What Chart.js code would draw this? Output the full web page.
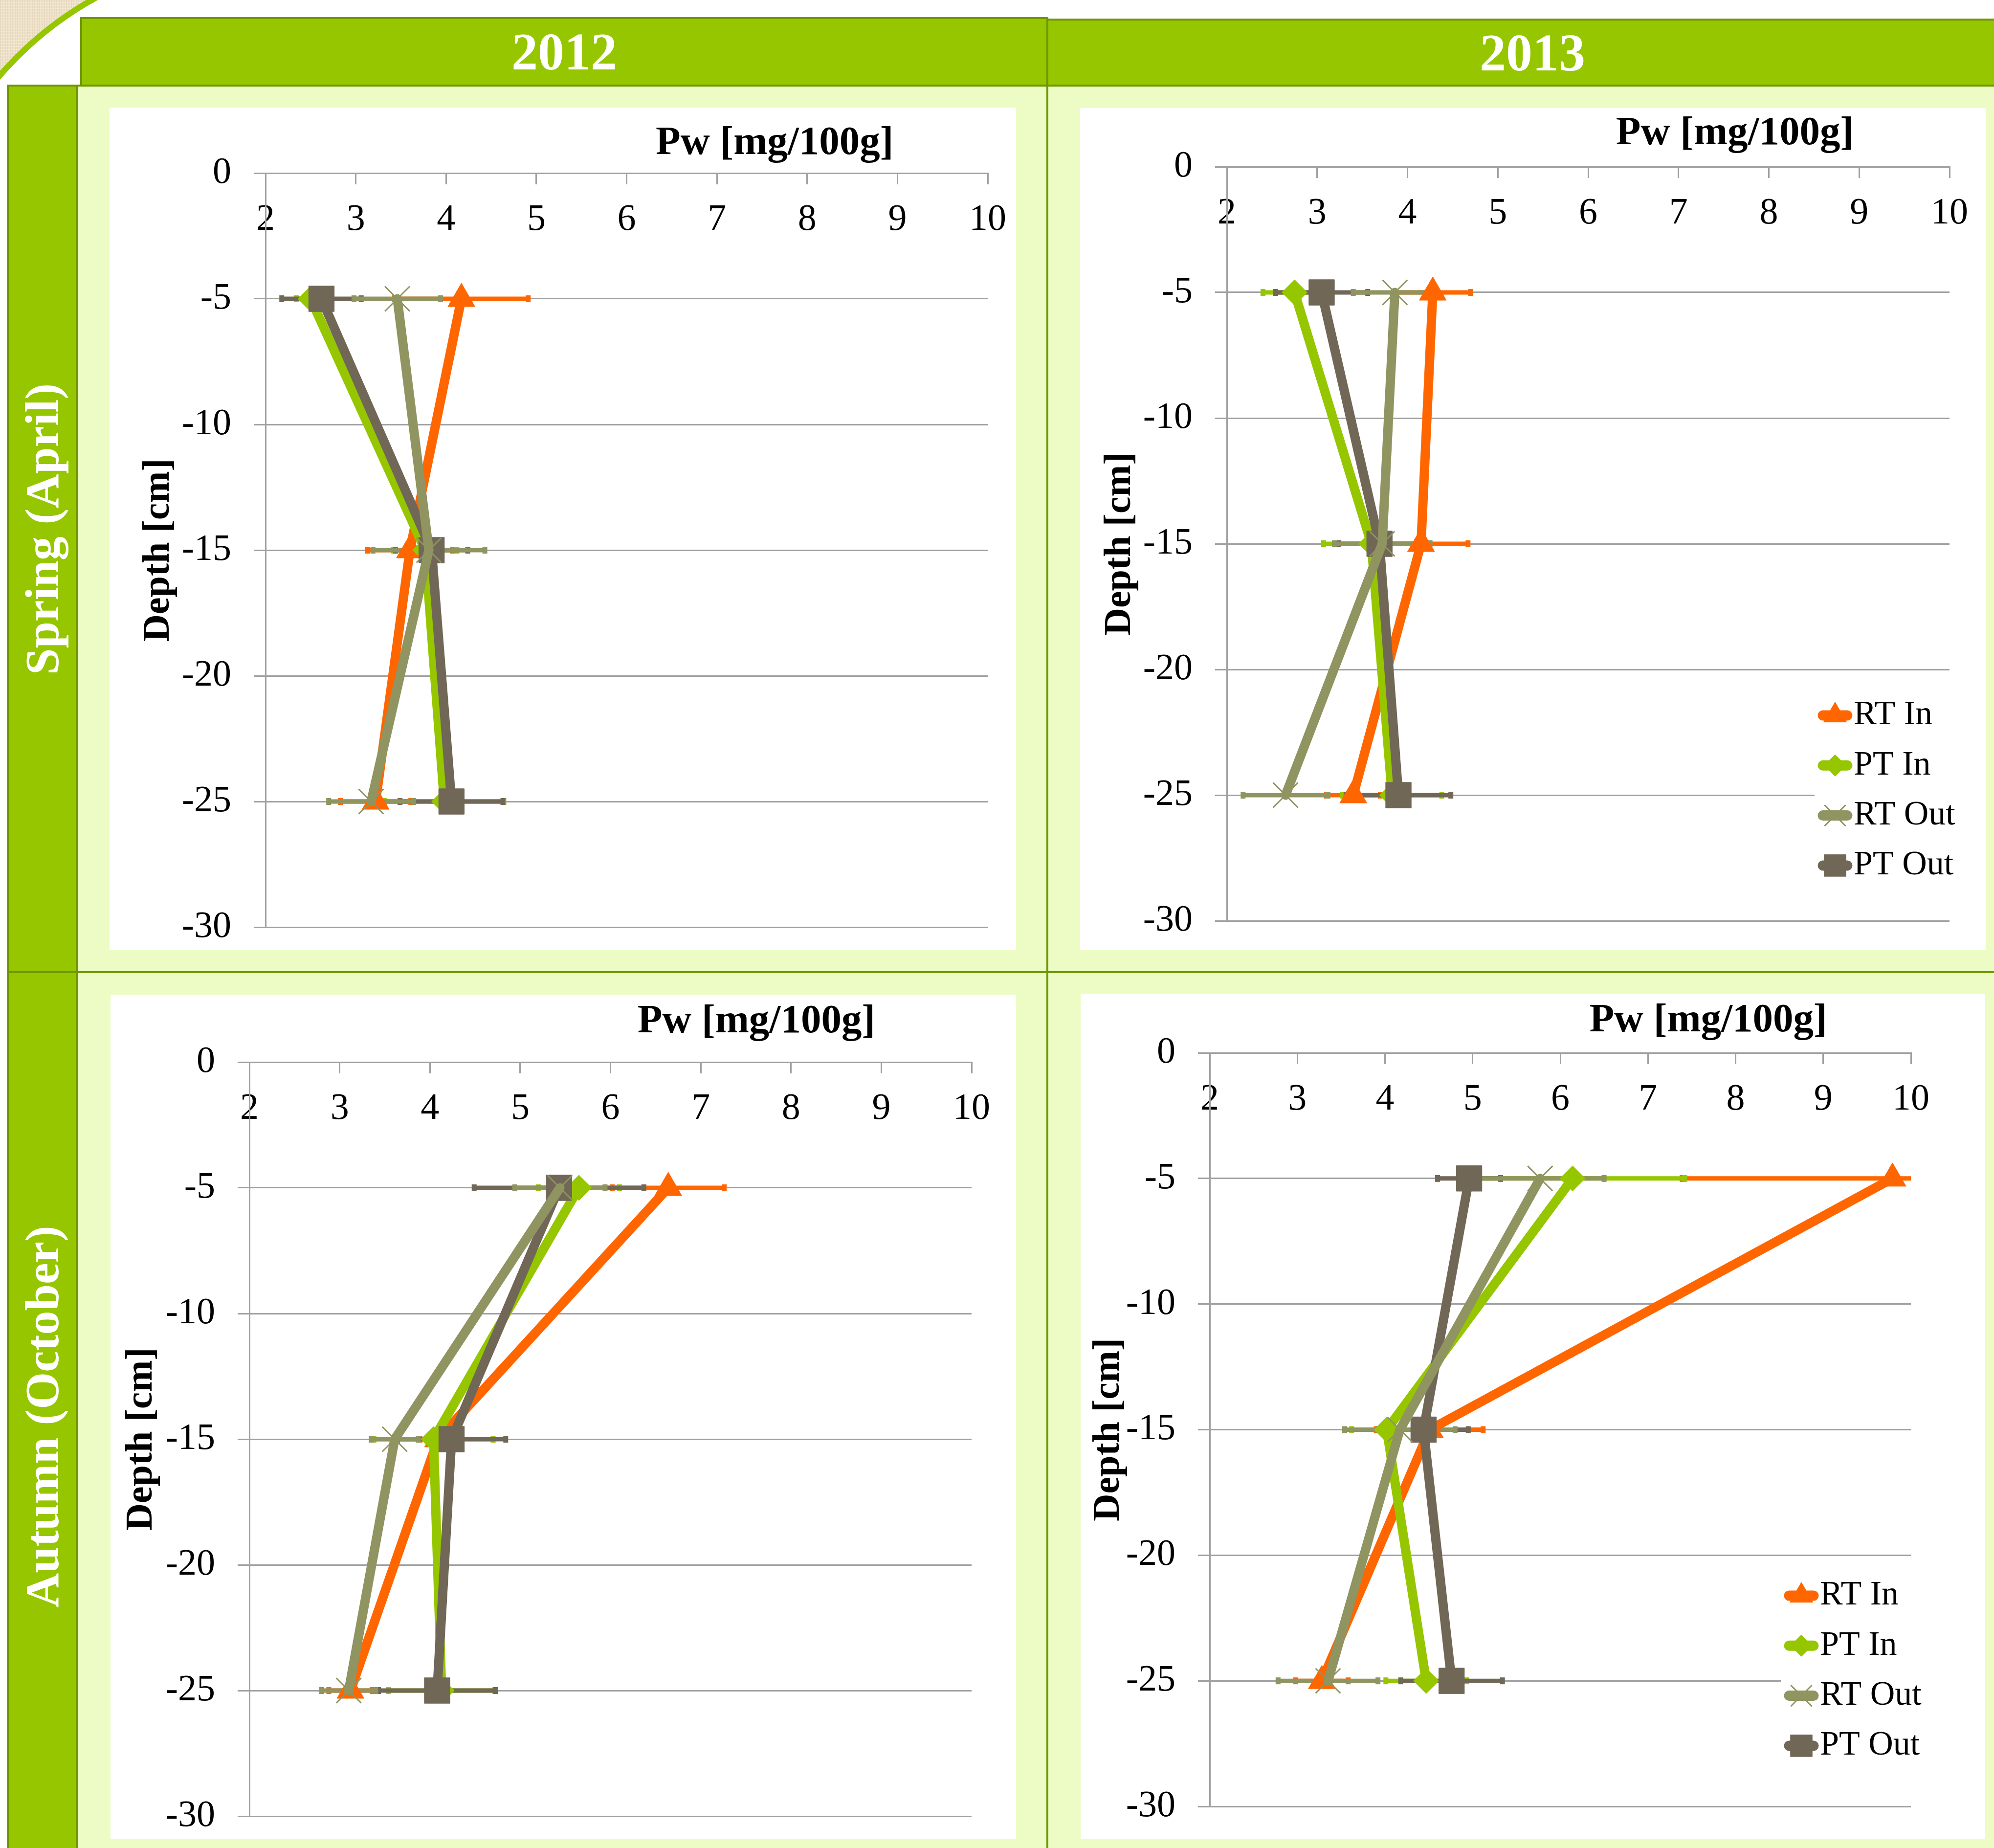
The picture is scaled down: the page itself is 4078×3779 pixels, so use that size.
<!DOCTYPE html>
<html>
<head>
<meta charset="utf-8">
<title>Pw depth profiles 2012–2013</title>
<script src="https://cdn.jsdelivr.net/npm/chart.js@4.4.1/dist/chart.umd.min.js"></script>
<style>
  html, body { margin: 0; padding: 0; background: #ffffff; }
  #page { position: relative; width: 4078px; height: 3779px; overflow: hidden; background: #ffffff;
          font-family: 'Liberation Serif', 'DejaVu Serif', serif; }
  .cornerWrap { position: absolute; left: 0; top: 0; width: 240px; height: 240px; overflow: hidden;
                background-color: #efe2c8;
                background-image:
                  repeating-linear-gradient(0deg, rgba(255,255,255,0.22) 0 2px, rgba(0,0,0,0) 2px 6px),
                  repeating-linear-gradient(90deg, rgba(150,120,80,0.10) 0 2px, rgba(0,0,0,0) 2px 5px); }
  .arc { position: absolute; left: -183px; top: -100px; width: 1430px; height: 1430px;
         border: 12px solid #95c600; border-radius: 50%; background: #ffffff; }
  .hdr { position: absolute; box-sizing: border-box; background: #95c600; border: 4px solid #6f9600;
         color: #ffffff; font-weight: bold; font-size: 108px; line-height: 1;
         display: flex; align-items: center; justify-content: center; }
  .side { position: absolute; box-sizing: border-box; background: #95c600; border: 4px solid #6f9600; }
  .sideText { position: absolute; color: #ffffff; font-weight: bold; font-size: 98px; line-height: 1;
              white-space: nowrap; transform: translate(-50%, -50%) rotate(-90deg); }
  .cell { position: absolute; box-sizing: border-box; background: #ecfcc4; border: 4px solid #6f9600; }
  .box { position: absolute; background: #ffffff; }
  .box canvas { display: block; }
</style>
</head>
<body>
<div id="page">
  <div class="cornerWrap"><div class="arc"></div></div>

  <div class="cell" style="left:155px; top:173px; width:1989px; height:1817px;"></div>
  <div class="cell" style="left:2140px; top:173px; width:2000px; height:1817px;"></div>
  <div class="cell" style="left:155px; top:1986px; width:1989px; height:1900px;"></div>
  <div class="cell" style="left:2140px; top:1986px; width:2000px; height:1900px;"></div>

  <div class="side" style="left:14px; top:173px; width:145px; height:1817px;"></div>
  <div class="side" style="left:14px; top:1986px; width:145px; height:1900px;"></div>
  <div class="sideText" id="season0" style="left:86px; top:1082px;"></div>
  <div class="sideText" id="season1" style="left:86px; top:2897px;"></div>

  <div class="hdr" id="year0" style="left:164px; top:35px; width:1980px; height:142px;"></div>
  <div class="hdr" id="year1" style="left:2140px; top:38px; width:1988px; height:139px;"></div>

  <div class="box" style="left:224px; top:220px; width:1854px; height:1723px;"><canvas id="cSpring2012" width="1854" height="1723"></canvas></div>
  <div class="box" style="left:2209px; top:221px; width:1852px; height:1722px;"><canvas id="cSpring2013" width="1852" height="1722"></canvas></div>
  <div class="box" style="left:226px; top:2034px; width:1852px; height:1727px;"><canvas id="cAutumn2012" width="1852" height="1727"></canvas></div>
  <div class="box" style="left:2210px; top:2032px; width:1850px; height:1728px;"><canvas id="cAutumn2013" width="1850" height="1728"></canvas></div>
</div>

<script>
// ---- labels and ticks ----
const yearLabels = ['2012', '2013'];
const seasonLabels = ['Spring (April)', 'Autumn (October)'];
const seriesNames = ['RT In', 'PT In', 'RT Out', 'PT Out'];
const depthLevels = [-5, -15, -25];
const pwTickValues = [2, 3, 4, 5, 6, 7, 8, 9, 10];
const depthTickValues = [0, -5, -10, -15, -20, -25, -30];
const pwAxisTitle = 'Pw [mg/100g]';
const depthAxisTitle = 'Depth [cm]';

// ---- Spring (April) 2012: means and error half-widths per depth ----
const rtIn_spring2012 = [4.17, 3.60, 3.22];
const ptIn_spring2012 = [2.50, 3.77, 3.98];
const rtOut_spring2012 = [3.46, 3.81, 3.17];
const ptOut_spring2012 = [2.62, 3.84, 4.06];
const rtInErr_spring2012 = [0.74, 0.47, 0.39];
const ptInErr_spring2012 = [0.16, 0.35, 0.66];
const rtOutErr_spring2012 = [0.48, 0.62, 0.47];
const ptOutErr_spring2012 = [0.44, 0.40, 0.57];

// ---- Spring (April) 2013 ----
const rtIn_spring2013 = [4.28, 4.15, 3.40];
const ptIn_spring2013 = [2.75, 3.60, 3.83];
const rtOut_spring2013 = [3.86, 3.72, 2.65];
const ptOut_spring2013 = [3.05, 3.69, 3.90];
const rtInErr_spring2013 = [0.42, 0.52, 0.30];
const ptInErr_spring2013 = [0.35, 0.53, 0.55];
const rtOutErr_spring2013 = [0.46, 0.53, 0.47];
const ptOutErr_spring2013 = [0.51, 0.45, 0.58];

// ---- Autumn (October) 2012 ----
const rtIn_autumn2012 = [6.64, 4.09, 3.12];
const ptIn_autumn2012 = [5.65, 4.04, 4.13];
const rtOut_autumn2012 = [5.44, 3.61, 3.10];
const ptOut_autumn2012 = [5.43, 4.24, 4.08];
const rtInErr_autumn2012 = [0.62, 0.20, 0.24];
const ptInErr_autumn2012 = [0.45, 0.66, 0.59];
const rtOutErr_autumn2012 = [0.50, 0.26, 0.30];
const ptOutErr_autumn2012 = [0.94, 0.60, 0.65];

// ---- Autumn (October) 2013 ----
const rtIn_autumn2013 = [9.79, 4.51, 3.28];
const ptIn_autumn2013 = [6.14, 4.02, 4.47];
const rtOut_autumn2013 = [5.77, 4.17, 3.35];
const ptOut_autumn2013 = [4.96, 4.44, 4.76];
const rtInErr_autumn2013 = [2.40, 0.61, 0.30];
const ptInErr_autumn2013 = [1.28, 0.40, 0.46];
const rtOutErr_autumn2013 = [0.73, 0.63, 0.57];
const ptOutErr_autumn2013 = [0.36, 0.51, 0.58];

// ---- styling ----
const FONT = "'Liberation Serif', 'DejaVu Serif', serif";
const GRID = '#a0a0a0';
const seriesStyle = [
  { color: '#ff6600', pointStyle: 'triangle', radius: 32, pointBorderWidth: 1 },
  { color: '#95c600', pointStyle: 'rectRot',  radius: 26, pointBorderWidth: 1 },
  { color: '#8f9461', pointStyle: 'crossRot', radius: 36, pointBorderWidth: 3 },
  { color: '#716757', pointStyle: 'rect',     radius: 37, pointBorderWidth: 1 }
];
// lower value is painted later (on top)
const drawOrder = [3, 2, 0, 1];

// panel geometry inside each white box
const panels = [
  { id: 'cSpring2012',
    values: [rtIn_spring2012, ptIn_spring2012, rtOut_spring2012, ptOut_spring2012],
    errors: [rtInErr_spring2012, ptInErr_spring2012, rtOutErr_spring2012, ptOutErr_spring2012],
    frame: { left: 319, top: 134, right: 58, bottom: 47 }, captionFx: 0.705, captionGap: 60, yTitlePad: 54, legend: null },
  { id: 'cSpring2013',
    values: [rtIn_spring2013, ptIn_spring2013, rtOut_spring2013, ptOut_spring2013],
    errors: [rtInErr_spring2013, ptInErr_spring2013, rtOutErr_spring2013, ptOutErr_spring2013],
    frame: { left: 300, top: 120, right: 74, bottom: 60 }, captionFx: 0.703, captionGap: 67, yTitlePad: 35,
    legend: { dx: 234, firstRow: 1122, rowGap: 102.3 } },
  { id: 'cAutumn2012',
    values: [rtIn_autumn2012, ptIn_autumn2012, rtOut_autumn2012, ptOut_autumn2012],
    errors: [rtInErr_autumn2012, ptInErr_autumn2012, rtOutErr_autumn2012, ptOutErr_autumn2012],
    frame: { left: 284, top: 138, right: 91, bottom: 47 }, captionFx: 0.702, captionGap: 82, yTitlePad: 17, legend: null },
  { id: 'cAutumn2013',
    values: [rtIn_autumn2013, ptIn_autumn2013, rtOut_autumn2013, ptOut_autumn2013],
    errors: [rtInErr_autumn2013, ptInErr_autumn2013, rtOutErr_autumn2013, ptOutErr_autumn2013],
    frame: { left: 264, top: 121, right: 152, bottom: 66 }, captionFx: 0.711, captionGap: 65, yTitlePad: 11,
    legend: { dx: 224, firstRow: 1110, rowGap: 102.3 } }
];

document.getElementById('year0').textContent = yearLabels[0];
document.getElementById('year1').textContent = yearLabels[1];
document.getElementById('season0').textContent = seasonLabels[0];
document.getElementById('season1').textContent = seasonLabels[1];

// horizontal error bars, painted under the profile lines
const errorBarPlugin = {
  id: 'errorBars',
  beforeDatasetsDraw(chart) {
    const { ctx, chartArea: a, scales: { x, y } } = chart;
    ctx.save();
    ctx.beginPath();
    ctx.rect(a.left, a.top - 20, a.right - a.left, a.bottom - a.top + 40);
    ctx.clip();
    const metas = chart.getSortedVisibleDatasetMetas();
    for (let m = metas.length - 1; m >= 0; m--) {
      const ds = chart.data.datasets[metas[m].index];
      ds.data.forEach((pt, j) => {
        const e = ds.xErrors[j];
        const x0 = x.getPixelForValue(pt.x - e);
        const x1 = x.getPixelForValue(pt.x + e);
        const py = y.getPixelForValue(pt.y);
        ctx.strokeStyle = ds.borderColor;
        ctx.fillStyle = ds.borderColor;
        ctx.lineWidth = 9;
        ctx.lineCap = 'butt';
        ctx.beginPath();
        ctx.moveTo(x0, py);
        ctx.lineTo(x1, py);
        ctx.stroke();
        ctx.fillRect(x0 - 5, py - 7, 10, 14);
        ctx.fillRect(x1 - 5, py - 7, 10, 14);
      });
    }
    ctx.restore();
  }
};

// x axis caption placed above the top axis line
const axisCaptionPlugin = {
  id: 'axisCaption',
  afterDraw(chart, args, opts) {
    const { ctx, chartArea: a } = chart;
    ctx.save();
    ctx.font = 'bold ' + opts.size + 'px ' + FONT;
    ctx.fillStyle = '#000000';
    ctx.textAlign = 'center';
    ctx.textBaseline = 'middle';
    ctx.fillText(opts.text, a.left + opts.fx * (a.right - a.left), a.top - opts.gap);
    ctx.restore();
  }
};

function paintMarker(ctx, style, radius, borderWidth, x, y) {
  if (Chart.helpers && Chart.helpers.drawPoint) {
    Chart.helpers.drawPoint(ctx, { pointStyle: style, radius: radius, borderWidth: borderWidth, rotation: 0 }, x, y);
  }
}

// legend box inside the plot, lower right
const sideLegendPlugin = {
  id: 'sideLegend',
  afterDraw(chart, args, opts) {
    if (!opts.show) return;
    const { ctx, chartArea: a } = chart;
    const mx = a.right - opts.dx;
    const dsList = chart.data.datasets;
    const rows = dsList.map((ds, i) => a.top + opts.firstRow + i * opts.rowGap);
    ctx.save();
    ctx.fillStyle = '#ffffff';
    ctx.fillRect(mx - 42, rows[0] - 55, chart.width - (mx - 42), rows[rows.length - 1] - rows[0] + 110);
    dsList.forEach((ds, i) => {
      const ry = rows[i];
      ctx.strokeStyle = ds.borderColor;
      ctx.lineWidth = 21;
      ctx.lineCap = 'round';
      ctx.beginPath();
      ctx.moveTo(mx - 25, ry);
      ctx.lineTo(mx + 25, ry);
      ctx.stroke();
      ctx.lineCap = 'butt';
      ctx.fillStyle = ds.pointBackgroundColor;
      ctx.strokeStyle = ds.pointBorderColor;
      ctx.lineWidth = ds.pointBorderWidth;
      paintMarker(ctx, ds.pointStyle, ds.pointRadius * 0.85, ds.pointBorderWidth, mx, ry);
      ctx.fillStyle = '#000000';
      ctx.font = '70px ' + FONT;
      ctx.textAlign = 'left';
      ctx.textBaseline = 'middle';
      ctx.fillText(ds.label, mx + 38, ry);
    });
    ctx.restore();
  }
};

function buildChart(p) {
  const datasets = seriesNames.map((name, i) => ({
    label: name,
    data: depthLevels.map((d, j) => ({ x: p.values[i][j], y: d })),
    xErrors: p.errors[i],
    showLine: true,
    tension: 0,
    borderColor: seriesStyle[i].color,
    backgroundColor: seriesStyle[i].color,
    borderWidth: 19,
    borderCapStyle: 'round',
    borderJoinStyle: 'round',
    pointStyle: seriesStyle[i].pointStyle,
    pointRadius: seriesStyle[i].radius,
    pointHoverRadius: seriesStyle[i].radius,
    pointBackgroundColor: seriesStyle[i].color,
    pointBorderColor: seriesStyle[i].color,
    pointBorderWidth: seriesStyle[i].pointBorderWidth,
    order: drawOrder[i]
  }));
  const f = p.frame;
  return new Chart(document.getElementById(p.id), {
    type: 'scatter',
    data: { datasets },
    plugins: [errorBarPlugin, axisCaptionPlugin, sideLegendPlugin],
    options: {
      responsive: false,
      animation: false,
      events: [],
      layout: { padding: { left: 0, top: 0, right: f.right, bottom: f.bottom } },
      plugins: {
        legend: { display: false },
        tooltip: { enabled: false },
        axisCaption: { text: pwAxisTitle, size: 83, fx: p.captionFx, gap: p.captionGap },
        sideLegend: p.legend ? Object.assign({ show: true }, p.legend) : { show: false }
      },
      scales: {
        x: {
          type: 'linear',
          position: 'top',
          min: 2,
          max: 10,
          afterBuildTicks: s => { s.ticks = pwTickValues.map(v => ({ value: v })); },
          afterFit: s => { s.height = f.top; s.paddingLeft = 0; s.paddingRight = 0; },
          grid: { display: true, drawOnChartArea: false, drawTicks: true, tickLength: -23,
                  color: GRID, lineWidth: 3, tickWidth: 3 },
          border: { display: true, color: GRID, width: 3 },
          ticks: { font: { family: FONT, size: 76 }, color: '#000000', mirror: true, padding: 50,
                   autoSkip: false, maxRotation: 0, minRotation: 0,
                   callback: v => String(v) },
          title: { display: false }
        },
        y: {
          type: 'linear',
          min: -30,
          max: 0,
          afterBuildTicks: s => { s.ticks = depthTickValues.map(v => ({ value: v })); },
          afterFit: s => { s.width = f.left; s.paddingTop = 0; s.paddingBottom = 0; },
          grid: { display: true, drawTicks: true, tickLength: 24, color: GRID, lineWidth: 3, tickWidth: 3 },
          border: { display: true, color: GRID, width: 3 },
          ticks: { font: { family: FONT, size: 76 }, color: '#000000', padding: 46,
                   autoSkip: false, callback: v => String(v) },
          title: { display: true, text: depthAxisTitle, color: '#000000',
                   font: { family: FONT, size: 78, weight: 'bold' },
                   padding: { top: p.yTitlePad, bottom: 0 } }
        }
      }
    }
  });
}

panels.forEach(buildChart);
</script>
</body>
</html>
